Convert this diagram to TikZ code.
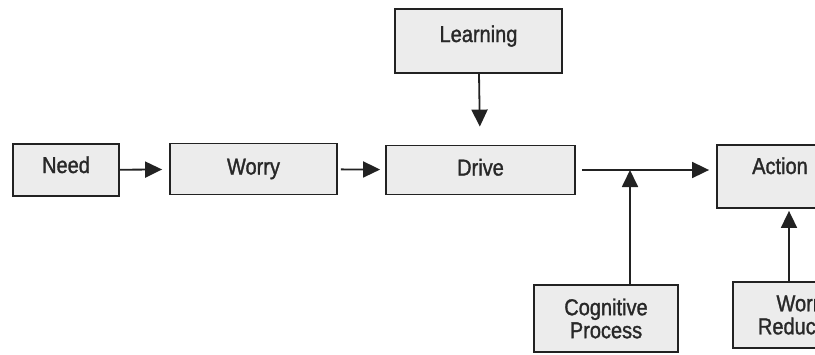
\documentclass[tikz,border=0pt]{standalone}
\usepackage{fontspec}
\setmainfont{Liberation Sans}[FakeStretch=0.87, FakeBold=1.3]
\usetikzlibrary{arrows.meta}
\definecolor{boxfill}{RGB}{236,236,236}
\definecolor{boxline}{RGB}{34,34,34}
\definecolor{textgray}{RGB}{40,40,40}
\begin{document}
\begin{tikzpicture}[x=1pt,y=-1pt,
  blk/.style={draw=boxline, line width=1.8pt, fill=boxfill, inner sep=0pt,
    text=textgray, font=\fontsize{23}{23}\selectfont, anchor=center},
  onel/.style={blk, text height=16pt, text depth=#1},
  twol/.style={blk, align=center},
  flow/.style={draw=boxline, line width=1.8pt,
    -{Triangle[length=17pt,width=16pt]}}]
\useasboundingbox (0,0) rectangle (815,354);
\clip (0,0) rectangle (815,354);

% boxes
\node[onel=10pt, minimum width=106pt, minimum height=52pt] (need)  at (66,170)    {Need};
\node[onel=5pt,  minimum width=167pt, minimum height=51pt] (worry) at (253.5,169) {Worry};
\node[onel=5pt,  minimum width=189pt, minimum height=49pt] (drive) at (480.5,170) {Drive};
\node[onel=14pt, minimum width=167pt, minimum height=64pt] (learn) at (478.5,41)  {Learning};
\node[onel=21pt, minimum width=126pt, minimum height=63pt] (action) at (780,176.5) {Action};
\node[twol, minimum width=144pt, minimum height=67pt] (cog) at (606,318.5) {Cognitive\\Process};
\node[twol, minimum width=140pt, minimum height=66pt] (wred) at (803,315) {Worry\\Reduction};

% junction where the cognitive process joins the main flow
\coordinate (j) at (630,170);
\coordinate (wx) at (789,0);

% connectors
\draw[flow, shorten >=7pt] (need) -- (worry);
\draw[flow, shorten <=3pt, shorten >=5pt] (worry) -- (drive);
\draw[flow, shorten >=18pt] (learn) -- (drive);
\draw[flow, shorten <=6pt, shorten >=7pt] (drive.east) -- (drive.east -| action.west);
\draw[flow] (cog.north -| j) -- (j);
\draw[flow, shorten >=2pt] (wred.north -| wx) -- (action.south -| wx);
\end{tikzpicture}
\end{document}
